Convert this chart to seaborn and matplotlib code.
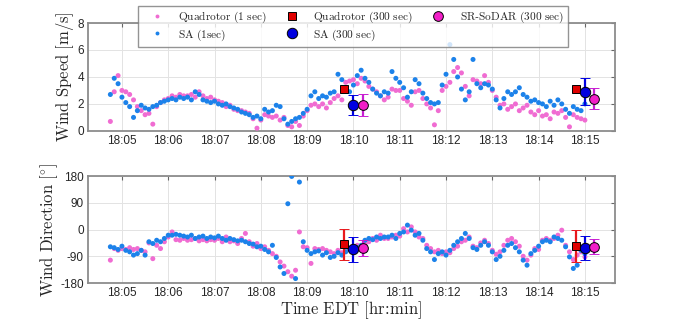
import numpy as np
import pandas as pd
import matplotlib
matplotlib.use("Agg")
import matplotlib.pyplot as plt
import seaborn as sns
from matplotlib.lines import Line2D

# ---------------- data ----------------
start_sec = 285          # 18:04:45 (seconds after 18:00:00)
step_sec = 5

sa_speed = [2.7, 3.9, 3.5, 2.5, 2.1, 1.8, 1.0, 1.5, 1.9, 1.7,
            1.6, 1.8, 1.9, 2.1, 2.2, 2.3, 2.4, 2.3, 2.5, 2.4,
            2.5, 2.3, 2.9, 2.7, 2.3, 2.2, 2.1, 2.2, 2.0, 1.9,
            2.0, 1.8, 1.7, 1.6, 1.4, 1.3, 1.2, 1.0, 1.1, 0.9,
            1.6, 1.4, 1.5, 1.9, 1.8, 0.9, 0.5, 0.7, 0.9, 1.0,
            1.3, 1.6, 2.6, 2.9, 2.4, 2.6, 2.5, 2.8, 2.9, 4.2,
            3.8, 3.1, 2.9, 3.4, 4.1, 4.5, 3.9, 3.6, 3.1, 2.8,
            2.6, 2.9, 2.8, 4.4, 3.9, 3.6, 3.2, 2.5, 2.9, 3.8,
            3.5, 2.8, 2.4, 2.1, 2.0, 2.1, 3.4, 4.2, 6.4, 5.3,
            4.0, 3.1, 2.3, 2.9, 5.3, 3.5, 3.2, 3.5, 3.4, 3.1,
            2.3, 1.7, 2.4, 2.9, 2.7, 2.9, 3.2, 2.7, 2.5, 2.2,
            2.3, 2.1, 2.0, 1.8, 2.2, 1.9, 2.3, 2.0, 1.6, 1.3,
            1.8, 1.6, 1.5, 2.0]

quad_speed = [0.7, 2.9, 4.1, 3.0, 2.9, 2.7, 2.3, 1.8, 1.5, 1.2,
              1.3, 0.5, 1.8, 2.1, 2.3, 2.4, 2.6, 2.5, 2.7, 2.6,
              2.6, 2.7, 2.5, 2.9, 2.6, 2.4, 2.5, 2.3, 2.2, 2.1,
              1.8, 1.9, 1.6, 1.5, 1.5, 1.4, 1.3, 0.9, 0.2, 0.8,
              1.2, 1.1, 1.0, 1.1, 0.8, 1.0, 0.4, 0.3, 0.7, 0.4,
              1.1, 1.5, 1.9, 2.0, 1.8, 2.0, 1.7, 2.1, 2.4, 2.6,
              2.3, 3.6, 3.7, 3.8, 3.5, 3.9, 3.7, 3.3, 3.1, 2.9,
              2.6, 2.3, 2.5, 3.1, 3.0, 3.0, 2.4, 2.2, 1.9, 2.9,
              3.0, 2.4, 2.0, 1.7, 0.45, 1.5, 3.0, 3.3, 3.6, 4.4,
              4.7, 4.3, 3.3, 2.6, 3.8, 3.7, 3.5, 4.1, 3.6, 3.0,
              2.5, 1.9, 2.0, 1.6, 1.8, 2.0, 1.5, 1.7, 1.9, 1.4,
              1.2, 1.5, 1.1, 1.2, 0.9, 1.4, 1.3, 1.5, 1.0, 0.3,
              1.2, 1.0, 0.9, 0.8]

sa_dir = [-58, -61, -67, -56, -70, -75, -86, -81, -70, -86,
          -41, -47, -36, -41, -30, -19, -19, -16, -19, -22,
          -25, -19, -30, -25, -22, -30, -25, -28, -22, -30,
          -36, -30, -34, -38, -36, -41, -47, -49, -58, -56,
          -67, -75, -53, -94, -126, -148, 87, 179, -165, 160,
          -41, -70, -81, -75, -72, -86, -78, -94, -90, -78,
          -86, -75, -64, -70, -61, -53, -36, -30, -34, -25,
          -30, -25, -25, -19, -30, -13, -8, 15, -2, -19,
          -13, -36, -64, -75, -101, -81, -75, -86, -70, -53,
          -41, -30, -13, -30, -61, -67, -53, -41, -53, -75,
          -101, -90, -70, -53, -47, -61, -75, -103, -120, -81,
          -70, -56, -41, -36, -41, -25, -30, -36, -58, -92,
          -131, -120, -70, -81]

quad_dir = [-103, -64, -70, -64, -67, -61, -67, -64, -70, -75,
            -45, -98, -53, -64, -41, -25, -8, -34, -36, -30,
            -36, -34, -30, -38, -34, -38, -34, -36, -30, -41,
            -25, -41, -38, -47, -30, -13, -41, -56, -47, -64,
            -58, -70, -81, -90, -109, -123, -142, -157, -137, -8,
            -58, -61, -114, -64, -67, -64, -70, -75, -81, -70,
            -78, -72, -67, -61, -53, -58, -49, -41, -30, -36,
            -19, -30, -30, -25, -19, -22, 3, -8, 9, -8,
            -25, -30, -53, -64, -75, -70, -81, -75, -78, -64,
            -56, -41, -36, -25, -56, -61, -45, -36, -47, -70,
            -83, -75, -53, -36, -30, -41, -56, -90, -103, -86,
            -64, -67, -36, -30, -36, -30, -19, -2, -53, -75,
            -101, -86, -75, -92]

# 300-s averages (time in seconds after 18:00:00)
quad300_time = [588, 888]
sa300_time = [600, 900]
sodar300_time = [612, 912]
quad300_speed = [3.1, 3.1]
sa300_speed = [1.9, 2.9]
sa300_speed_err = [0.75, 1.0]
sodar300_speed = [1.9, 2.4]
sodar300_speed_err = [0.8, 0.8]
quad300_dir = [-50, -54]
quad300_dir_err = [53, 54]
sa300_dir = [-67, -62]
sa300_dir_err = [43, 41]
sodar300_dir = [-62, -58]
sodar300_dir_err = [27, 25]

tick_secs = [300, 360, 420, 480, 540, 600, 660, 720, 780, 840, 900]
tick_labels = ["18:05", "18:06", "18:07", "18:08", "18:09", "18:10",
               "18:11", "18:12", "18:13", "18:14", "18:15"]

times = start_sec + step_sec * np.arange(len(sa_speed))
df = pd.DataFrame({"t": times, "sa_speed": sa_speed, "quad_speed": quad_speed,
                   "sa_dir": sa_dir, "quad_dir": quad_dir})

# ---------------- style ----------------
sns.set_style("white")
plt.rcParams["mathtext.fontset"] = "cm"
plt.rcParams["font.family"] = ["Liberation Sans", "DejaVu Sans"]

PINK = "#F06CD2"
BLUE = "#1C82EA"
RED_F = "#E00000"
RED_E = "#E8181C"
DBLUE = "#0000E0"
MAG_F = "#F21FC8"
MAG_E = "#C81ED2"
SPINE = "#8C8C8C"

fig = plt.figure(figsize=(6.8, 3.2), dpi=100)
ax1 = fig.add_axes([0.1294, 0.591, 0.775, 0.337])
ax2 = fig.add_axes([0.1294, 0.1156, 0.775, 0.334])

for ax, qcol, scol in [(ax1, "quad_speed", "sa_speed"), (ax2, "quad_dir", "sa_dir")]:
    sns.scatterplot(data=df, x="t", y=qcol, ax=ax, color=PINK, s=13,
                    edgecolor="none", linewidth=0, zorder=3)
    sns.scatterplot(data=df, x="t", y=scol, ax=ax, color=BLUE, s=13,
                    edgecolor="none", linewidth=0, zorder=3)

# averages, speed
ax1.errorbar(quad300_time, quad300_speed, fmt="s", ms=5.5, mfc=RED_F, mec="k",
             mew=0.7, zorder=5)
ax1.errorbar(sa300_time, sa300_speed, yerr=sa300_speed_err, fmt="o", ms=7.5,
             mfc=DBLUE, mec="k", mew=0.7, ecolor=DBLUE, elinewidth=1.6,
             capsize=3.5, capthick=1.6, zorder=5)
ax1.errorbar(sodar300_time, sodar300_speed, yerr=sodar300_speed_err, fmt="o", ms=7,
             mfc=MAG_F, mec="k", mew=0.7, ecolor=MAG_E, elinewidth=1.6,
             capsize=3.5, capthick=1.6, zorder=5)
# averages, direction
ax2.errorbar(quad300_time, quad300_dir, yerr=quad300_dir_err, fmt="s", ms=5.5,
             mfc=RED_F, mec="k", mew=0.7, ecolor=RED_E, elinewidth=1.6,
             capsize=3.5, capthick=1.6, zorder=5)
ax2.errorbar(sa300_time, sa300_dir, yerr=sa300_dir_err, fmt="o", ms=7.5,
             mfc=DBLUE, mec="k", mew=0.7, ecolor=DBLUE, elinewidth=1.6,
             capsize=3.5, capthick=1.6, zorder=5)
ax2.errorbar(sodar300_time, sodar300_dir, yerr=sodar300_dir_err, fmt="o", ms=7,
             mfc=MAG_F, mec="k", mew=0.7, ecolor=MAG_E, elinewidth=1.6,
             capsize=3.5, capthick=1.6, zorder=5)

ax1.set_ylim(0, 8)
ax1.set_yticks([0, 2, 4, 6, 8])
ax2.set_ylim(-180, 180)
ax2.set_yticks([-180, -90, 0, 90, 180])
ax2.set_yticklabels(["-180", "-90", "0", "90", "180"])

for ax in (ax1, ax2):
    ax.set_xlim(256, 939)
    ax.set_xticks(tick_secs)
    ax.set_xticklabels(tick_labels)
    ax.grid(True, color="#E3E3E3", linewidth=0.7, zorder=0)
    ax.set_axisbelow(True)
    for sp in ax.spines.values():
        sp.set_visible(True)
        sp.set_color(SPINE)
        sp.set_linewidth(1.3)
    ax.tick_params(direction="in", length=3, width=0.8, color="#666666",
                   labelsize=8.5, labelcolor="#262626", top=True, right=True,
                   pad=3)
    ax.set_xlabel("")

ax1.set_ylabel(r"$\mathrm{Wind\ Speed\ [m/s]}$", fontsize=12, labelpad=1)
ax2.set_ylabel(r"$\mathrm{Wind\ Direction\ [^{\circ}]}$", fontsize=12, labelpad=0)
ax2.set_xlabel(r"$\mathrm{Time\ EDT\ [hr\!:\!min]}$", fontsize=12, labelpad=0)

handles = [
    Line2D([], [], ls="none", marker="o", ms=2.8, mfc=PINK, mec="none"),
    Line2D([], [], ls="none", marker="o", ms=2.8, mfc=BLUE, mec="none"),
    Line2D([], [], ls="none", marker="s", ms=5.5, mfc=RED_F, mec="k", mew=0.7),
    Line2D([], [], ls="none", marker="o", ms=7.5, mfc=DBLUE, mec="k", mew=0.7),
    Line2D([], [], ls="none", marker="o", ms=7, mfc=MAG_F, mec="k", mew=0.7),
]
labels = [r"$\mathrm{Quadrotor\ (1\ sec)}$", r"$\mathrm{SA\ (1sec)}$",
          r"$\mathrm{Quadrotor\ (300\ sec)}$", r"$\mathrm{SA\ (300\ sec)}$",
          r"$\mathrm{SR}$-$\mathrm{SoDAR\ (300\ sec)}$"]
leg = fig.legend(handles, labels, ncol=3, loc="upper center",
                 bbox_to_anchor=(0.519, 1.0), frameon=True, fancybox=False,
                 edgecolor="#7A7A7A", fontsize=8.2, handletextpad=0.6,
                 columnspacing=0.9, borderpad=0.35, labelspacing=0.2,
                 handlelength=2.6)
leg.get_frame().set_linewidth(1.0)

fig.savefig("out.png", dpi=100)
